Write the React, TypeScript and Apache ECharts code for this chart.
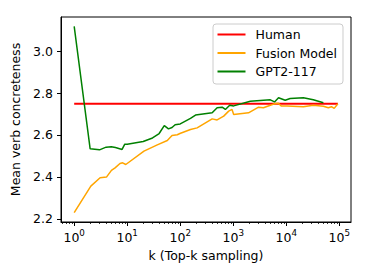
import React, { useEffect, useRef } from 'react';
import * as echarts from 'echarts';

const humanK = [1, 94000];
const humanV = [2.749, 2.749];

const fusionK = [1, 2.06, 3.08, 4.06, 5.04, 5.9, 7.3, 8.2, 9.4, 20.7, 36.9, 57, 70, 88, 98.6, 156, 208, 400, 496, 660, 820, 947, 1018, 1940, 3000, 3700, 6000, 7100, 8000, 10300, 21000, 32300, 50000, 62000, 71000, 80000, 94000];
const fusionV = [2.229, 2.356, 2.396, 2.399, 2.431, 2.443, 2.464, 2.467, 2.459, 2.523, 2.553, 2.574, 2.598, 2.601, 2.607, 2.626, 2.634, 2.677, 2.672, 2.69, 2.714, 2.722, 2.698, 2.706, 2.733, 2.73, 2.749, 2.752, 2.738, 2.739, 2.735, 2.742, 2.737, 2.73, 2.735, 2.727, 2.749];

const gptK = [1, 2, 3, 4, 5, 6, 8, 9, 10, 20, 30, 40, 50, 60, 70, 80, 100, 156, 194, 400, 496, 617, 710, 856, 1018, 2090, 5000, 6000, 7130, 9530, 11800, 21000, 32300, 50000];
const gptV = [3.119, 2.534, 2.529, 2.542, 2.544, 2.54, 2.531, 2.556, 2.556, 2.569, 2.586, 2.607, 2.645, 2.629, 2.636, 2.649, 2.653, 2.679, 2.695, 2.706, 2.73, 2.733, 2.722, 2.742, 2.739, 2.761, 2.768, 2.758, 2.778, 2.766, 2.774, 2.778, 2.768, 2.754];

const seriesNames = ['Human', 'Fusion Model', 'GPT2-117'];
const xMajorTicks = [1, 10, 100, 1000, 10000, 100000];
const yTicks = [2.2, 2.4, 2.6, 2.8, 3.0];
const xMin = 0.564;
const xMax = 166000;
const yMin = 2.1845;
const yMax = 3.1635;

const minorTicks: number[] = [];
for (let d = -1; d <= 5; d++) {
  for (let m = 2; m <= 9; m++) {
    const v = m * Math.pow(10, d);
    if (v >= xMin && v <= xMax) minorTicks.push(v);
  }
}

const zip = (a: number[], b: number[]) => a.map((x, i) => [x, b[i]]);

const FONT = 'DejaVu Sans';
const FS = 12.5;

export default function App() {
  const ref = useRef<HTMLDivElement>(null);
  useEffect(() => {
    if (!ref.current) return;
    const chart = echarts.init(ref.current, null, { renderer: 'svg' });
    const baseX = {
      type: 'log',
      logBase: 10,
      min: xMin,
      max: xMax,
      position: 'bottom',
      gridIndex: 0,
      splitLine: { show: false },
    };
    chart.setOption({
      animation: false,
      backgroundColor: '#fff',
      textStyle: { fontFamily: FONT },
      grid: { left: 61, right: 18, top: 17, bottom: 55, show: true, borderColor: '#000', borderWidth: 1, containLabel: false },
      legend: {
        data: seriesNames,
        orient: 'vertical',
        left: 213,
        top: 24,
        padding: [3.5, 6, 5.5, 4.5],
        itemGap: 4.5,
        itemWidth: 28,
        itemHeight: 2,
        icon: 'rect',
        borderColor: '#cccccc',
        borderWidth: 1,
        borderRadius: 3,
        backgroundColor: 'rgba(255,255,255,0.8)',
        textStyle: { fontFamily: FONT, fontSize: FS, color: '#000', lineHeight: 14, padding: [0, 0, 0, 5] },
      },
      xAxis: [
        {
          ...baseX,
          name: 'k (Top-k sampling)',
          nameLocation: 'middle',
          nameGap: 27,
          nameTextStyle: { fontFamily: FONT, fontSize: FS, color: '#000' },
          axisLine: { show: true, lineStyle: { color: '#000', width: 1 } },
          axisTick: { show: true, length: 4, inside: false, customValues: xMajorTicks, lineStyle: { color: '#000', width: 1 } },
          axisLabel: {
            show: true,
            margin: 6,
            customValues: xMajorTicks,
            color: '#000',
            formatter: (v: number) => `{b|10}{s|${Math.round(Math.log10(v))}}`,
            rich: {
              b: { fontFamily: FONT, fontSize: FS, color: '#000', lineHeight: 16, verticalAlign: 'bottom' },
              s: { fontFamily: FONT, fontSize: 8.75, color: '#000', lineHeight: 16, verticalAlign: 'top' },
            },
          },
        },
        {
          ...baseX,
          axisLine: { show: false },
          axisLabel: { show: false },
          axisTick: { show: true, length: 2, customValues: minorTicks, lineStyle: { color: '#000', width: 0.8 } },
        },
      ],
      yAxis: {
        type: 'value',
        min: yMin,
        max: yMax,
        name: 'Mean verb concreteness',
        nameLocation: 'middle',
        nameRotate: 90,
        nameGap: 34,
        nameTextStyle: { fontFamily: FONT, fontSize: FS, color: '#000' },
        splitLine: { show: false },
        axisLine: { show: true, lineStyle: { color: '#000', width: 1 } },
        axisTick: { show: true, length: 4, customValues: yTicks, lineStyle: { color: '#000', width: 1 } },
        axisLabel: {
          show: true,
          margin: 8,
          customValues: yTicks,
          color: '#000',
          fontFamily: FONT,
          fontSize: FS,
          formatter: (v: number) => v.toFixed(1),
        },
      },
      series: [
        {
          name: seriesNames[0],
          type: 'line',
          data: zip(humanK, humanV),
          showSymbol: false,
          symbol: 'none',
          color: '#ff0000',
          lineStyle: { color: '#ff0000', width: 2 },
        },
        {
          name: seriesNames[1],
          type: 'line',
          data: zip(fusionK, fusionV),
          showSymbol: false,
          symbol: 'none',
          color: '#ffa500',
          lineStyle: { color: '#ffa500', width: 1.5 },
        },
        {
          name: seriesNames[2],
          type: 'line',
          data: zip(gptK, gptV),
          showSymbol: false,
          symbol: 'none',
          color: '#008000',
          lineStyle: { color: '#008000', width: 1.5 },
        },
      ],
    });
    return () => chart.dispose();
  }, []);
  return <div ref={ref} style={{ position: 'fixed', left: 0, top: 0, width: 369, height: 277 }} />;
}
